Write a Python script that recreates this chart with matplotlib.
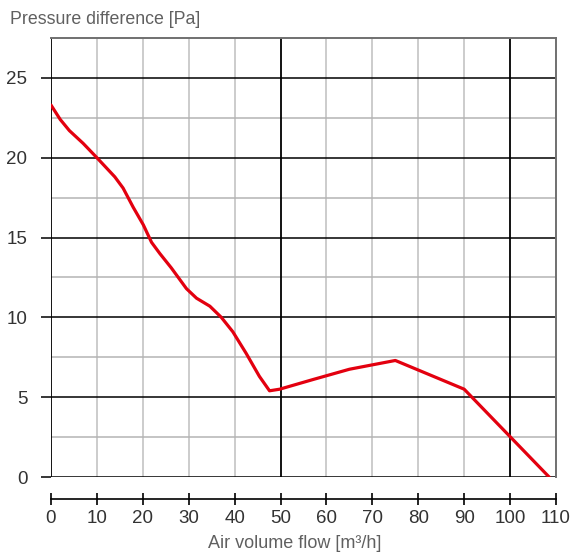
import numpy as np
import matplotlib.pyplot as plt

plt.rcParams['font.family'] = ['Liberation Sans', 'DejaVu Sans']

# curve
flow = [0, 2, 4, 7, 10, 13.9, 15.7, 17.9, 20.1, 21.9, 23.7, 26.2, 29.5, 31.7,
        34.6, 37.1, 39.6, 42.5, 45.4, 47.6, 49.8, 57, 65, 75, 90, 108.5]
pressure = [23.3, 22.4, 21.7, 20.9, 20.0, 18.8, 18.1, 16.9, 15.8, 14.7, 14.0,
            13.1, 11.8, 11.2, 10.7, 10.0, 9.1, 7.75, 6.3, 5.4, 5.5, 6.1, 6.75,
            7.3, 5.5, 0.0]

x_ticks = list(range(0, 111, 10))
y_ticks = [0, 5, 10, 15, 20, 25]

fig = plt.figure(figsize=(5.74, 5.53), dpi=100)
ax = fig.add_axes([51/574, 1-477/553, 505/574, 439/553])
ax.set_xlim(0, 110)
ax.set_ylim(0, 27.5)

# grid
for x in range(10, 111, 10):
    if x % 50:
        ax.axvline(x, color='#c8c8c8', lw=1.3, zorder=1)
for x in (0, 50, 100):
    ax.axvline(x, color='black', lw=1.3, zorder=2)
for y in np.arange(2.5, 27.5, 5):
    ax.axhline(y, color='#b4b4b4', lw=1.1, zorder=1)
for y in y_ticks:
    ax.axhline(y, color='black', lw=1.1, zorder=2)

ax.plot(flow, pressure, color='#e3000f', lw=2.3, zorder=3,
        solid_joinstyle='round', solid_capstyle='round')

for s in ('top', 'right'):
    ax.spines[s].set_color('#707070')
    ax.spines[s].set_linewidth(1.4)
ax.spines['left'].set_visible(False)
ax.spines['bottom'].set_position(('outward', 16))
ax.spines['bottom'].set_linewidth(1.2)

ax.set_xticks(x_ticks)
ax.set_yticks(y_ticks)
ax.tick_params(axis='x', direction='inout', length=8, width=1.2,
               labelsize=13.5, labelcolor='#333333', pad=4)
ax.tick_params(axis='y', direction='out', length=7, width=1.1,
               labelsize=13.5, labelcolor='#333333', pad=10)

fig.text(10/574, 1-20/553, 'Pressure difference [Pa]', fontsize=12.8,
         color='#606060', va='center', ha='left')
fig.text(295/574, 1-543/553, 'Air volume flow [m³/h]', fontsize=13,
         color='#606060', va='center', ha='center')

fig.savefig('out.png', dpi=100)
